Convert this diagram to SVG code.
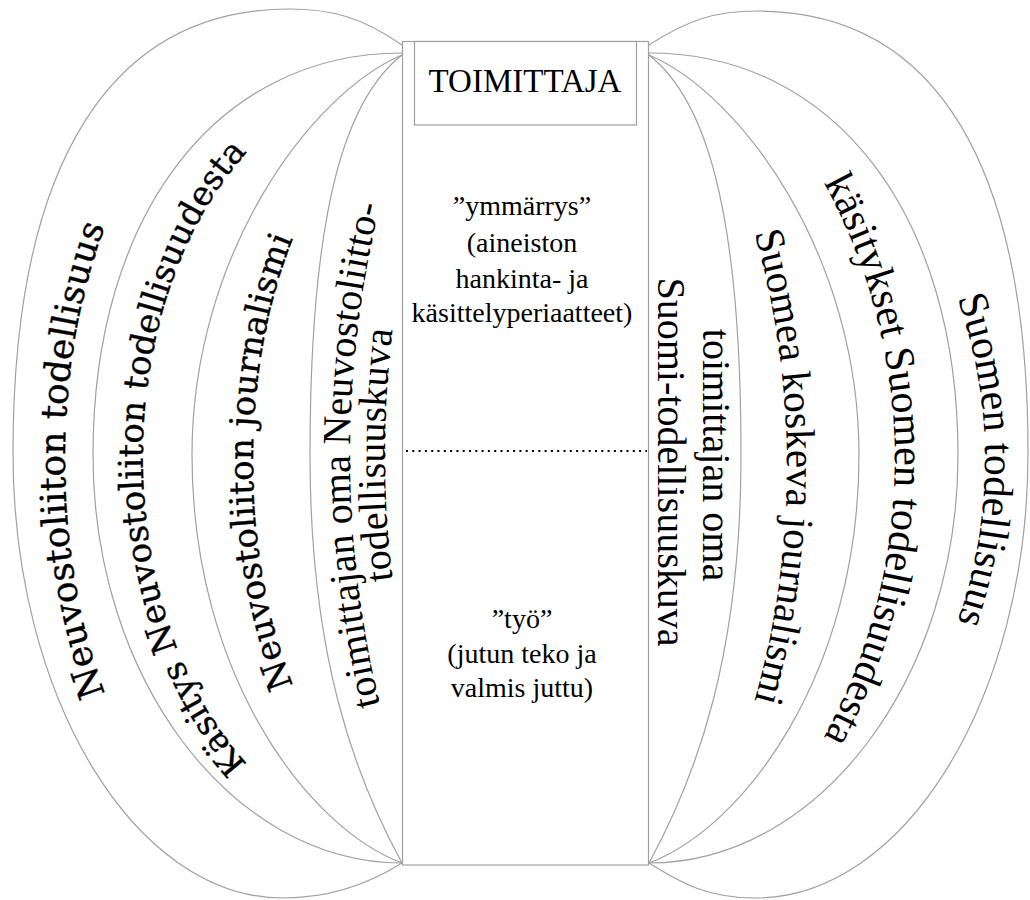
<svg xmlns="http://www.w3.org/2000/svg" xmlns:xlink="http://www.w3.org/1999/xlink" width="1030" height="900" viewBox="0 0 1030 900">
<style>
.arc{fill:none;stroke:#a0a0a0;stroke-width:1.2}
.box{fill:#fff;stroke:#a0a0a0;stroke-width:1.2}
.t{font-family:"Liberation Serif","Times New Roman",serif;fill:#000}
.d{font-family:"DejaVu Serif","Liberation Serif",serif;fill:#000;stroke:#000;stroke-width:0.35}
.c{font-size:28px;text-anchor:middle}
</style>
<defs>
<path id="pL1" d="M156.5,790 A225,410 0 0 1 156.5,130"/>
<path id="pL2" d="M285,798 A257,380 0 0 1 285,118"/>
<path id="pL3" d="M337.4,762 A177,352 0 0 1 337.4,162"/>
<path id="pL4a" d="M393.5,755 A1057,1057 0 0 1 393.5,155"/>
<path id="pL4b" d="M416,705 A1022,1022 0 0 1 416,205"/>
<path id="pR4a" d="M703,195 L703,715"/>
<path id="pR4b" d="M658,202 L658,722"/>
<path id="pR3" d="M740,187 A859,859 0 0 1 740,747"/>
<path id="pR2" d="M798,140 A577.5,577.5 0 0 1 798,780"/>
<path id="pR1" d="M916,210 A487.6,487.6 0 0 1 916,710"/>
<g id="innerArcs">
<path d="M402,53 C217,53 93,214 93,455 C93,679 232,863 402,863"/>
<path d="M402,55 C310,94 192,255 192,455 C192,675 308,828 402,863"/>
<path d="M402,55 C347,98 310,205 310,455 C310,655 354,775 402,863"/>
</g>
</defs>
<g id="connectors" class="arc">
<path d="M402,45 C362,17 330,9 290,9 C110,9 13,164 13,453 C13,698 135,898 283,898 C328,898 367,885 402,863"/>
<use xlink:href="#innerArcs"/>
<use xlink:href="#innerArcs" transform="matrix(-1 0 0 1 1051 0)"/>
<path d="M649,45 C689,19 717,11 757,11 C937,11 1028,166 1028,453 C1028,698 905,898 755,898 C710,898 684,885 649,863"/>
</g>
<g id="toimittaja-frame">
<rect class="box" x="402.5" y="41.5" width="246" height="823.5"/>
<line x1="406" y1="451" x2="647" y2="451" stroke="#000" stroke-width="2" stroke-dasharray="2 4.3"/>
</g>
<g id="toimittaja">
<rect class="box" x="414.5" y="41.5" width="222" height="83.5"/>
<text class="t" x="525" y="92" font-size="33" text-anchor="middle">TOIMITTAJA</text>
</g>
<g id="ymmarrys">
<text class="t c" x="522" y="215">”ymmärrys”</text>
<text class="t c" x="522" y="252">(aineiston</text>
<text class="t c" x="522" y="288">hankinta- ja</text>
<text class="t c" x="522" y="322">käsittelyperiaatteet)</text>
</g>
<g id="tyo">
<text class="t c" x="522" y="628">”työ”</text>
<text class="t c" x="522" y="663">(jutun teko ja</text>
<text class="t c" x="522" y="697">valmis juttu)</text>
</g>
<g id="neuvostoliiton-todellisuus">
<text class="d" font-size="36" text-anchor="middle"><textPath xlink:href="#pL1" startOffset="50%">Neuvostoliiton todellisuus</textPath></text>
</g>
<g id="kasitys-neuvostoliiton">
<text class="d" font-size="34" text-anchor="middle"><textPath xlink:href="#pL2" startOffset="50%">Käsitys Neuvostoliiton todellisuudesta</textPath></text>
</g>
<g id="neuvostoliiton-journalismi">
<text class="d" font-size="34" text-anchor="middle"><textPath xlink:href="#pL3" startOffset="50%">Neuvostoliiton journalismi</textPath></text>
</g>
<g id="toimittajan-neuvostoliittokuva">
<text class="t" font-size="40" text-anchor="middle"><textPath xlink:href="#pL4a" startOffset="50%">toimittajan oma Neuvostoliitto-</textPath></text>
<text class="t" font-size="40" text-anchor="middle"><textPath xlink:href="#pL4b" startOffset="50%">todellisuuskuva</textPath></text>
</g>
<g id="toimittajan-suomikuva">
<text class="t" font-size="40" text-anchor="middle"><textPath xlink:href="#pR4a" startOffset="50%">toimittajan oma</textPath></text>
<text class="t" font-size="40" text-anchor="middle"><textPath xlink:href="#pR4b" startOffset="50%">Suomi-todellisuuskuva</textPath></text>
</g>
<g id="suomea-koskeva-journalismi">
<text class="t" font-size="41" text-anchor="middle"><textPath xlink:href="#pR3" startOffset="50%">Suomea koskeva journalismi</textPath></text>
</g>
<g id="kasitykset-suomen">
<text class="t" font-size="42" text-anchor="middle"><textPath xlink:href="#pR2" startOffset="50%">käsitykset Suomen todellisuudesta</textPath></text>
</g>
<g id="suomen-todellisuus">
<text class="t" font-size="42" text-anchor="middle"><textPath xlink:href="#pR1" startOffset="50%">Suomen todellisuus</textPath></text>
</g>
</svg>
